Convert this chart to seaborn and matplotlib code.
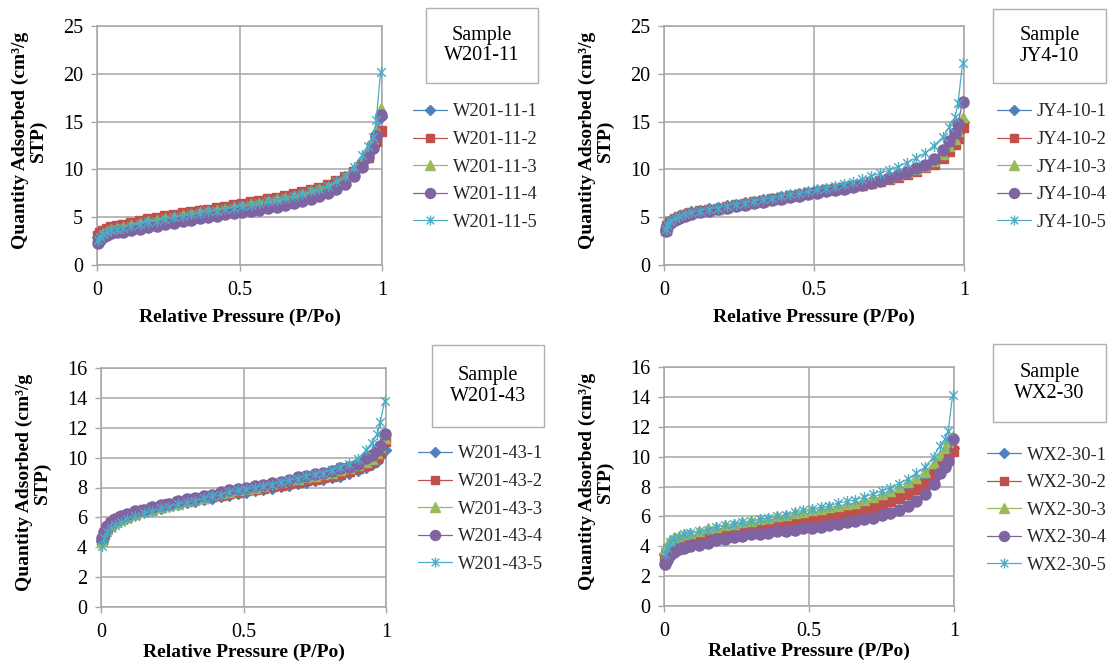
import numpy as np
import pandas as pd
import seaborn as sns
import matplotlib.pyplot as plt
from matplotlib.patches import Rectangle
from matplotlib.path import Path

sns.set_theme(style="whitegrid")
plt.rcParams['font.family'] = ['Liberation Serif', 'DejaVu Serif']

# --- data: relative pressure points shared by every isotherm ---
pressure = [0.005, 0.01, 0.02, 0.035, 0.05, 0.07, 0.09, 0.12, 0.15, 0.18,
            0.21, 0.24, 0.27, 0.30, 0.33, 0.36, 0.39, 0.42, 0.45, 0.48,
            0.51, 0.54, 0.57, 0.60, 0.63, 0.66, 0.69, 0.72, 0.75, 0.78,
            0.81, 0.84, 0.87, 0.90, 0.93, 0.95, 0.97, 0.98, 0.995]

# Sample W201-11
w201_11_1 = [2.9, 3.2, 3.5, 3.7, 3.9, 4.0, 4.1, 4.3, 4.5, 4.7,
             4.8, 5.0, 5.1, 5.3, 5.4, 5.6, 5.7, 5.9, 6.0, 6.2,
             6.3, 6.5, 6.6, 6.8, 6.9, 7.1, 7.3, 7.5, 7.7, 8.0,
             8.3, 8.7, 9.2, 9.8, 10.7, 11.6, 12.8, 13.6, 15.5]
w201_11_2 = [3.0, 3.3, 3.6, 3.8, 4.0, 4.1, 4.2, 4.4, 4.6, 4.8,
             4.9, 5.1, 5.2, 5.4, 5.5, 5.7, 5.8, 6.0, 6.1, 6.3,
             6.4, 6.6, 6.7, 6.9, 7.0, 7.2, 7.4, 7.6, 7.8, 8.1,
             8.4, 8.8, 9.2, 9.7, 10.5, 11.3, 12.5, 13.0, 14.0]
w201_11_3 = [2.7, 3.0, 3.3, 3.6, 3.8, 3.9, 4.0, 4.2, 4.4, 4.6,
             4.7, 4.9, 5.0, 5.2, 5.3, 5.5, 5.6, 5.8, 5.9, 6.1,
             6.2, 6.4, 6.5, 6.7, 6.9, 7.0, 7.2, 7.4, 7.7, 7.9,
             8.2, 8.6, 9.1, 9.8, 10.8, 11.8, 13.2, 14.2, 16.4]
w201_11_4 = [2.3, 2.6, 2.9, 3.1, 3.3, 3.4, 3.5, 3.7, 3.8, 4.0,
             4.1, 4.3, 4.4, 4.6, 4.7, 4.9, 5.0, 5.1, 5.3, 5.4,
             5.5, 5.7, 5.8, 6.0, 6.1, 6.3, 6.5, 6.7, 6.9, 7.2,
             7.5, 7.9, 8.5, 9.3, 10.3, 11.3, 12.2, 13.5, 15.7]
w201_11_5 = [2.6, 2.9, 3.2, 3.5, 3.7, 3.8, 3.9, 4.1, 4.3, 4.5,
             4.6, 4.8, 5.0, 5.1, 5.3, 5.4, 5.6, 5.7, 5.9, 6.0,
             6.2, 6.3, 6.5, 6.7, 6.8, 7.0, 7.2, 7.4, 7.7, 8.0,
             8.3, 8.8, 9.3, 10.3, 11.5, 12.5, 13.4, 15.2, 20.2]

# Sample JY4-10
jy4_10_1 = [3.8, 4.2, 4.6, 4.9, 5.1, 5.3, 5.5, 5.7, 5.9, 6.0,
            6.2, 6.3, 6.5, 6.6, 6.8, 6.9, 7.1, 7.2, 7.4, 7.5,
            7.7, 7.8, 8.0, 8.2, 8.3, 8.5, 8.7, 8.9, 9.1, 9.4,
            9.7, 10.0, 10.4, 10.9, 11.5, 12.2, 13.0, 13.8, 15.0]
jy4_10_2 = [3.7, 4.1, 4.5, 4.8, 5.0, 5.2, 5.4, 5.6, 5.8, 5.9,
            6.1, 6.3, 6.4, 6.6, 6.7, 6.9, 7.0, 7.2, 7.3, 7.5,
            7.6, 7.8, 7.9, 8.1, 8.3, 8.4, 8.6, 8.8, 9.0, 9.2,
            9.5, 9.8, 10.2, 10.6, 11.2, 11.9, 12.7, 13.3, 14.4]
jy4_10_3 = [3.7, 4.1, 4.5, 4.8, 5.0, 5.2, 5.4, 5.6, 5.8, 5.9,
            6.1, 6.3, 6.4, 6.6, 6.7, 6.9, 7.0, 7.2, 7.3, 7.5,
            7.6, 7.8, 7.9, 8.1, 8.3, 8.5, 8.7, 8.9, 9.1, 9.4,
            9.7, 10.0, 10.4, 10.9, 11.6, 12.4, 13.2, 14.0, 15.5]
jy4_10_4 = [3.6, 4.0, 4.4, 4.7, 4.9, 5.1, 5.3, 5.5, 5.7, 5.9,
            6.0, 6.2, 6.3, 6.5, 6.6, 6.8, 6.9, 7.1, 7.2, 7.4,
            7.5, 7.7, 7.8, 8.0, 8.2, 8.4, 8.6, 8.8, 9.1, 9.4,
            9.7, 10.1, 10.5, 11.1, 12.0, 13.0, 13.8, 14.8, 17.0]
jy4_10_5 = [3.8, 4.2, 4.6, 4.9, 5.1, 5.3, 5.5, 5.7, 5.9, 6.0,
            6.2, 6.4, 6.5, 6.7, 6.9, 7.0, 7.2, 7.4, 7.5, 7.7,
            7.9, 8.1, 8.3, 8.5, 8.7, 9.0, 9.3, 9.6, 9.9, 10.3,
            10.7, 11.2, 11.7, 12.5, 13.4, 14.4, 15.5, 16.9, 21.1]

# Sample W201-43
w201_43_1 = [4.4, 4.8, 5.2, 5.5, 5.7, 5.9, 6.0, 6.2, 6.4, 6.5,
             6.6, 6.8, 6.9, 7.0, 7.1, 7.2, 7.3, 7.4, 7.5, 7.6,
             7.7, 7.8, 7.9, 8.0, 8.1, 8.2, 8.3, 8.4, 8.5, 8.6,
             8.7, 8.8, 9.0, 9.2, 9.4, 9.6, 9.8, 10.1, 10.5]
w201_43_2 = [4.5, 4.9, 5.3, 5.6, 5.8, 6.0, 6.1, 6.3, 6.5, 6.6,
             6.7, 6.9, 7.0, 7.1, 7.2, 7.3, 7.4, 7.5, 7.6, 7.7,
             7.8, 7.9, 8.0, 8.1, 8.2, 8.3, 8.4, 8.5, 8.6, 8.7,
             8.8, 8.9, 9.1, 9.3, 9.5, 9.7, 10.0, 10.4, 11.1]
w201_43_3 = [4.4, 4.8, 5.2, 5.5, 5.7, 5.9, 6.0, 6.2, 6.4, 6.5,
             6.7, 6.8, 6.9, 7.1, 7.2, 7.3, 7.5, 7.6, 7.7, 7.8,
             7.9, 8.0, 8.1, 8.3, 8.4, 8.5, 8.6, 8.7, 8.8, 8.9,
             9.0, 9.2, 9.3, 9.5, 9.7, 9.9, 10.3, 10.7, 11.3]
w201_43_4 = [4.6, 5.0, 5.4, 5.7, 5.9, 6.1, 6.2, 6.4, 6.5, 6.7,
             6.8, 6.9, 7.1, 7.2, 7.3, 7.4, 7.5, 7.7, 7.8, 7.9,
             8.0, 8.1, 8.2, 8.3, 8.4, 8.5, 8.7, 8.8, 8.9, 9.0,
             9.1, 9.3, 9.4, 9.6, 10.0, 10.2, 10.5, 10.8, 11.6]
w201_43_5 = [4.1, 4.6, 5.0, 5.3, 5.5, 5.7, 5.9, 6.1, 6.3, 6.4,
             6.6, 6.7, 6.9, 7.0, 7.1, 7.3, 7.4, 7.5, 7.7, 7.8,
             7.9, 8.0, 8.1, 8.2, 8.4, 8.5, 8.6, 8.8, 8.9, 9.0,
             9.2, 9.4, 9.6, 9.9, 10.5, 11.0, 11.6, 12.4, 13.8]

# Sample WX2-30
wx2_30_1 = [3.5, 3.8, 4.1, 4.3, 4.4, 4.5, 4.6, 4.7, 4.9, 5.0,
            5.1, 5.2, 5.3, 5.4, 5.5, 5.6, 5.7, 5.8, 5.9, 6.0,
            6.1, 6.2, 6.3, 6.4, 6.5, 6.6, 6.8, 6.9, 7.1, 7.3,
            7.5, 7.8, 8.1, 8.5, 9.1, 9.6, 10.1, 10.4, 10.6]
wx2_30_2 = [3.2, 3.5, 3.8, 4.0, 4.1, 4.2, 4.3, 4.4, 4.6, 4.8,
            4.9, 5.0, 5.1, 5.2, 5.3, 5.4, 5.5, 5.6, 5.7, 5.8,
            5.8, 5.9, 6.0, 6.1, 6.3, 6.4, 6.5, 6.6, 6.8, 7.0,
            7.2, 7.5, 7.8, 8.2, 8.8, 9.3, 9.8, 10.2, 10.4]
wx2_30_3 = [3.8, 4.1, 4.4, 4.6, 4.7, 4.8, 4.9, 5.0, 5.2, 5.3,
            5.4, 5.5, 5.6, 5.7, 5.8, 5.9, 6.0, 6.1, 6.2, 6.3,
            6.4, 6.5, 6.6, 6.7, 6.8, 6.9, 7.1, 7.3, 7.5, 7.7,
            8.0, 8.3, 8.6, 9.0, 9.6, 10.1, 10.6, 11.0, 11.4]
wx2_30_4 = [2.8, 3.1, 3.4, 3.6, 3.8, 3.9, 4.0, 4.1, 4.2, 4.4,
            4.5, 4.6, 4.7, 4.8, 4.8, 4.9, 5.0, 5.0, 5.1, 5.2,
            5.2, 5.3, 5.4, 5.5, 5.6, 5.7, 5.8, 5.9, 6.1, 6.2,
            6.4, 6.7, 7.0, 7.5, 8.2, 8.9, 9.3, 9.7, 11.2]
wx2_30_5 = [3.5, 3.9, 4.3, 4.5, 4.6, 4.8, 4.9, 5.0, 5.1, 5.3,
            5.4, 5.5, 5.6, 5.7, 5.8, 5.9, 6.0, 6.1, 6.3, 6.4,
            6.5, 6.6, 6.7, 6.9, 7.0, 7.1, 7.3, 7.5, 7.7, 7.9,
            8.2, 8.5, 8.9, 9.3, 10.0, 10.7, 11.2, 11.7, 14.1]

samples = ['W201-11', 'JY4-10', 'W201-43', 'WX2-30']
sample_series = [
    [w201_11_1, w201_11_2, w201_11_3, w201_11_4, w201_11_5],
    [jy4_10_1, jy4_10_2, jy4_10_3, jy4_10_4, jy4_10_5],
    [w201_43_1, w201_43_2, w201_43_3, w201_43_4, w201_43_5],
    [wx2_30_1, wx2_30_2, wx2_30_3, wx2_30_4, wx2_30_5],
]
y_max = [25, 25, 16, 16]
y_step = [5, 5, 2, 2]

# --- style (Excel-like series look) ---
colors = ['#4F81BD', '#C0504D', '#9BBB59', '#8064A2', '#4BACC6']
star = Path([(-1, -1), (1, 1), (-1, 1), (1, -1), (0, -1.3), (0, 1.3)],
            [Path.MOVETO, Path.LINETO, Path.MOVETO, Path.LINETO, Path.MOVETO, Path.LINETO])
markers = ['D', 's', '^', 'o', star]
msizes = [6.0, 6.5, 7.5, 8.0, 8.0]
grid_col = '#A6A6A6'

W, H = 1110, 665
fig = plt.figure(figsize=(W / 100, H / 100), dpi=100)


def frac_rect(x0, y0, x1, y1):
    return [x0 / W, 1 - y1 / H, (x1 - x0) / W, (y1 - y0) / H]


# pixel layout: axes box, sample box, legend anchor (handle left, first row centre)
axes_px = [(97, 26, 382, 265), (664, 26, 964, 265), (101, 368, 386, 607), (664, 367, 954, 606)]
box_px = [(426, 8, 538, 83), (993, 9, 1106, 83), (432, 345, 544, 427), (993, 344, 1106, 422)]
leg_px = [(413, 114), (997, 114), (418, 456), (987, 457)]
xlab_gap = [44, 44, 37, 37]

for i, name in enumerate(samples):
    x0, y0, x1, y1 = axes_px[i]
    ax = fig.add_axes(frac_rect(x0, y0, x1, y1))
    ax.set_facecolor('white')
    for k, vals in enumerate(sample_series[i]):
        sns.lineplot(x=pressure, y=vals, ax=ax, color=colors[k], marker=markers[k],
                     markersize=msizes[k], markeredgecolor=colors[k], markeredgewidth=1.0,
                     linewidth=0.9, label=f'{name}-{k + 1}', clip_on=False, zorder=3 + k)

    ax.set_xlim(0, 1)
    ax.set_ylim(0, y_max[i])
    ax.set_xticks([0, 0.5, 1])
    ax.set_xticklabels(['0', '0.5', '1'])
    ax.set_yticks(np.arange(0, y_max[i] + 1, y_step[i]))
    ax.grid(True, color=grid_col, linewidth=1.1)
    for sp in ax.spines.values():
        sp.set_color(grid_col)
        sp.set_linewidth(1.1)
    ax.tick_params(axis='both', bottom=True, left=True, length=4, width=1.0,
                   color=grid_col, labelsize=14.5, labelcolor='black')
    ax.tick_params(axis='x', pad=7.5)
    ax.tick_params(axis='y', pad=6)

    wpx, hpx = x1 - x0, y1 - y0
    ax.set_xlabel('Relative Pressure (P/Po)', fontsize=14, fontweight='bold', color='black')
    ax.xaxis.set_label_coords(0.5, -xlab_gap[i] / hpx)
    ax.set_ylabel('Quantity Adsorbed (cm³/g\nSTP)', fontsize=14, fontweight='bold',
                  color='black', linespacing=1.05)
    ax.yaxis.set_label_coords(-50 / wpx, 0.52)

    # legend at the right of the panel
    handles, labels = ax.get_legend_handles_labels()
    lx, ly = leg_px[i]
    ax.legend(handles, labels, loc='upper left', bbox_to_anchor=(lx / W, 1 - (ly - 10.5) / H),
              bbox_transform=fig.transFigure, frameon=False, fontsize=13.3,
              borderpad=0, borderaxespad=0, handlelength=1.85, handletextpad=0.3,
              labelspacing=0.57, markerscale=0.9)

    # "Sample ..." text box
    bx0, by0, bx1, by1 = box_px[i]
    fig.add_artist(Rectangle((bx0 / W, 1 - by1 / H), (bx1 - bx0) / W, (by1 - by0) / H,
                             transform=fig.transFigure, facecolor='white',
                             edgecolor='#B0B0B0', linewidth=1.0))
    fig.text((bx0 + bx1) / 2 / W, 1 - (by0 + by1) / 2 / H, f'Sample\n{name}',
             ha='center', va='center', fontsize=14.5, linespacing=1.1, color='black')

fig.savefig('out.png', dpi=100, facecolor='white')
